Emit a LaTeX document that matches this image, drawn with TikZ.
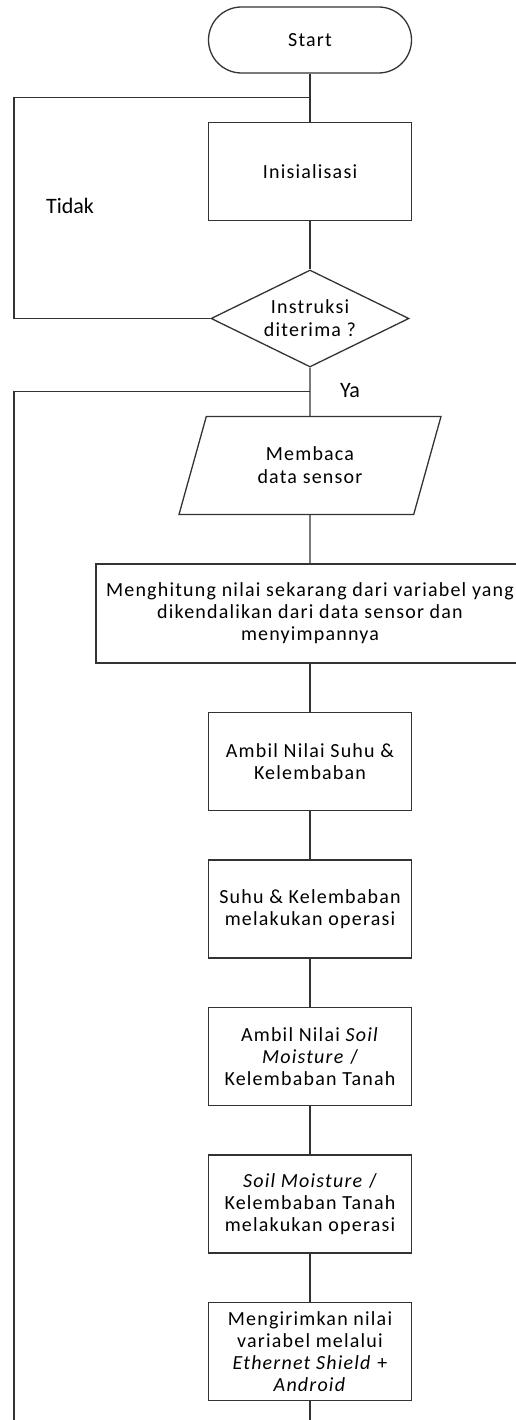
\documentclass[tikz,border=0pt]{standalone}
\usepackage{fontspec}
\setmainfont{Carlito}
\newfontfamily\boxfont{Carlito}[LetterSpace=6]
\usepackage{tikz}
\usetikzlibrary{positioning,shapes.geometric}
\tikzset{terminal/.style={
    % The shape:
    rectangle,
    rounded corners=33pt,
    % The size:
    minimum height=66pt,
    minimum width=203pt,
    % The border:
    line width=1.3pt,
    draw=black!80,
    % Font
    font=\boxfont\fontsize{20}{22}\selectfont,
    },
    process/.style={
    rectangle,
    minimum height=98pt,
    minimum width=203pt,
    line width=1.3pt,
    draw=black!80,
    align=center,
    font=\boxfont\fontsize{20}{22}\selectfont,
    },
    decision/.style={
    diamond,
    aspect=2,
    minimum height=97pt,
    minimum width=198pt,
    inner sep=0pt,
    line width=1.3pt,
    draw=black!80,
    align=center,
    font=\boxfont\fontsize{20}{23}\selectfont,
    },
    inout/.style={
    trapezium,
    trapezium left angle=58,
    trapezium right angle=122,
    trapezium stretches body=true,
    minimum height=98pt,
    minimum width=262pt,
    line width=1.3pt,
    draw=black!80,
    align=center,
    font=\boxfont\fontsize{20}{23}\selectfont,
    },
    branch/.style={
    font=\fontsize{22}{26}\selectfont,
    inner sep=0pt,
    },
    flow/.style={
    line width=1.3pt,
    draw=black!80,
    },
}

\begin{document}
\begin{tikzpicture}[node distance = 48.2pt]
    \useasboundingbox (0,0) rectangle (516pt,-1420pt);
    \clip (0,0) rectangle (516pt,-1420pt);
    \node (start)   [terminal] at (310pt,-40pt)    {Start};
    \node (init)    [process,below=of start]       {Inisialisasi};
    \node (ask)     [decision,below=of init]       {Instruksi\\diterima ?};
    \node (read)    [inout,below=of ask]           {Membaca\\data sensor};
    \node (count)   [process,below=of read,minimum width=428pt,minimum height=99pt]
                    {Menghitung nilai sekarang dari variabel yang\\dikendalikan dari data sensor dan\\menyimpannya};
    \node (temp)    [process,below=of count]       {Ambil Nilai Suhu \&\\Kelembaban};
    \node (tempop)  [process,below=of temp]        {Suhu \& Kelembaban\\melakukan operasi};
    \node (soil)    [process,below=of tempop]      {Ambil Nilai \textit{Soil}\\\textit{Moisture} /\\Kelembaban Tanah};
    \node (soilop)  [process,below=of soil]        {\textit{Soil Moisture} /\\Kelembaban Tanah\\melakukan operasi};
    \node (send)    [process,below=of soilop]      {Mengirimkan nilai\\variabel melalui\\\textit{Ethernet Shield} +\\\textit{Android}};
    \node (no)      [branch] at (70pt,-206pt)      {Tidak};
    \node (yes)     [branch] at (350pt,-391pt)     {Ya};
    \coordinate (rail) at (14pt,0pt);
    \coordinate (back) at (310pt,-1440pt);
    % main line
    \draw [flow] (start) -- coordinate (top) (init);
    \draw [flow] (init) -- (ask);
    \draw [flow] (ask) -- coordinate (loop) (read);
    \draw [flow] (read) -- (count);
    \draw [flow] (count) -- (temp);
    \draw [flow] (temp) -- (tempop);
    \draw [flow] (tempop) -- (soil);
    \draw [flow] (soil) -- (soilop);
    \draw [flow] (soilop) -- (send);
    % back lines
    \draw [flow] (ask.west) -- (ask.west -| rail) |- (top);
    \draw [flow] (send) -- (back) -- (back -| rail) |- (loop);
  \end{tikzpicture}
\end{document}
